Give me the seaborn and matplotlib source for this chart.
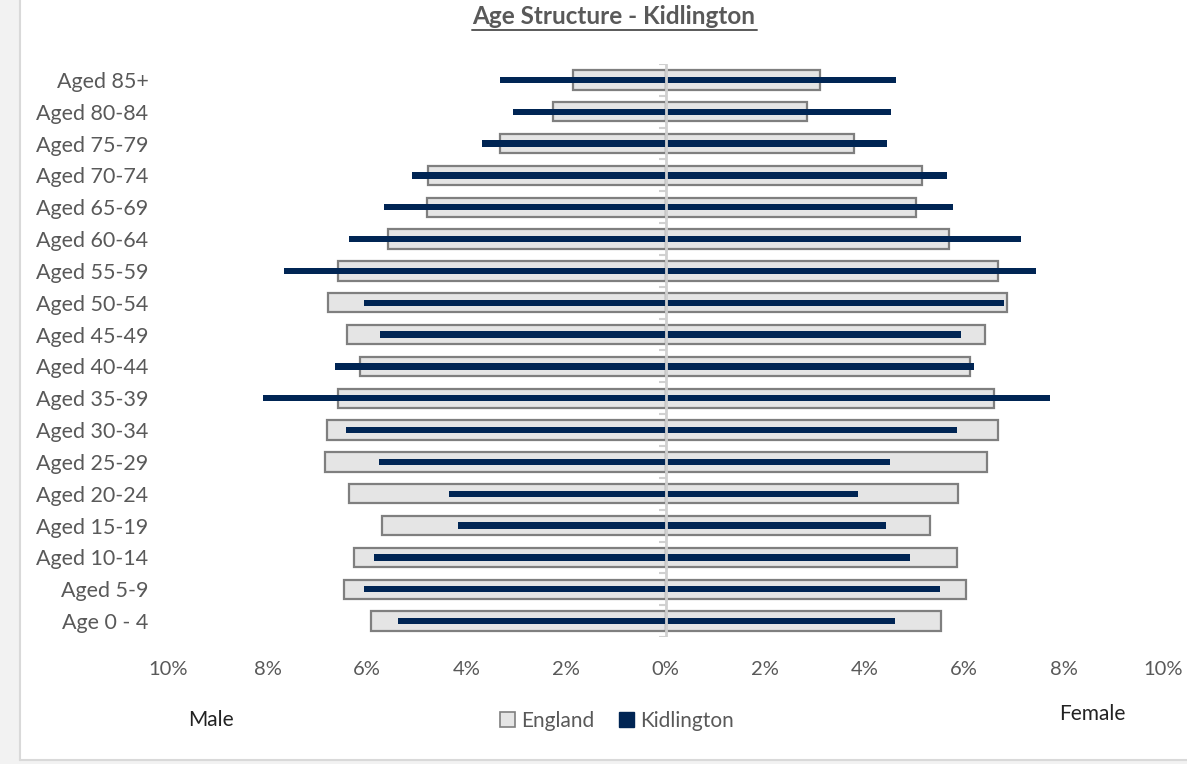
import numpy as np
import pandas as pd
import matplotlib
matplotlib.use("Agg")
import matplotlib.pyplot as plt
from matplotlib.patches import Patch
import seaborn as sns

# Age bands, oldest at the top
age_bands = ["Aged 85+", "Aged 80-84", "Aged 75-79", "Aged 70-74", "Aged 65-69",
             "Aged 60-64", "Aged 55-59", "Aged 50-54", "Aged 45-49", "Aged 40-44",
             "Aged 35-39", "Aged 30-34", "Aged 25-29", "Aged 20-24", "Aged 15-19",
             "Aged 10-14", "Aged 5-9", "Age 0 - 4"]

# Share of population (%) in each band
england_male = [1.86, 2.27, 3.32, 4.77, 4.79, 5.58, 6.59, 6.79, 6.41, 6.14,
                6.59, 6.81, 6.85, 6.37, 5.69, 6.26, 6.47, 5.91]
england_female = [3.10, 2.85, 3.79, 5.15, 5.03, 5.70, 6.69, 6.87, 6.43, 6.12,
                  6.60, 6.69, 6.47, 5.88, 5.31, 5.86, 6.05, 5.53]
kidlington_male = [3.32, 3.06, 3.68, 5.09, 5.66, 6.36, 7.67, 6.06, 5.73, 6.64,
                   8.09, 6.42, 5.76, 4.36, 4.18, 5.85, 6.07, 5.37]
kidlington_female = [4.63, 4.54, 4.46, 5.66, 5.77, 7.14, 7.44, 6.81, 5.93, 6.20,
                     7.72, 5.86, 4.52, 3.87, 4.44, 4.91, 5.51, 4.61]

x_ticks = [-10, -8, -6, -4, -2, 0, 2, 4, 6, 8, 10]
x_tick_labels = ["10%", "8%", "6%", "4%", "2%", "0%", "2%", "4%", "6%", "8%", "10%"]

ENG_FACE = "#e5e5e5"
ENG_EDGE = "#7f7f7f"
KID_COLOR = "#002554"
TEXT_GREY = "#595959"

sns.set_theme(style="white")
plt.rcParams["font.family"] = ["Lato", "DejaVu Sans"]

W, H = 1187, 764
fig = plt.figure(figsize=(W / 100, H / 100), dpi=100)
fig.patch.set_facecolor("white")

# light grey surround with the chart-area border
fig.add_artist(plt.Rectangle((0, 0), 19 / W, 1, transform=fig.transFigure,
                             facecolor="#f2f2f2", edgecolor="none", zorder=0))
fig.add_artist(plt.Rectangle((0, 0), 1, 4 / H, transform=fig.transFigure,
                             facecolor="#f2f2f2", edgecolor="none", zorder=0))
fig.add_artist(plt.Line2D([19.5 / W, 19.5 / W], [4.5 / H, 1], transform=fig.transFigure,
                          color="#d9d9d9", lw=1.5))
fig.add_artist(plt.Line2D([19.5 / W, 1], [4.5 / H, 4.5 / H], transform=fig.transFigure,
                          color="#d9d9d9", lw=1.5))

ax = fig.add_axes([168 / W, (H - 637) / H, 995 / W, 573 / H])

eng = pd.DataFrame({"band": age_bands * 2,
                    "value": [-v for v in england_male] + england_female})
kid = pd.DataFrame({"band": age_bands * 2,
                    "value": [-v for v in kidlington_male] + kidlington_female})

for side in (eng.iloc[:18], eng.iloc[18:]):
    sns.barplot(data=side, x="value", y="band", order=age_bands, orient="h",
                width=0.61, color=ENG_FACE, edgecolor=ENG_EDGE, linewidth=1.6,
                saturation=1, ax=ax, zorder=2)
for side in (kid.iloc[:18], kid.iloc[18:]):
    sns.barplot(data=side, x="value", y="band", order=age_bands, orient="h",
                width=0.2, color=KID_COLOR, linewidth=0, saturation=1, ax=ax, zorder=3)

ax.set_xlim(-10, 10)
ax.set_ylim(len(age_bands) - 0.5, -0.5)

# central axis with small category ticks
ax.axvline(0, color="#d0d0d0", lw=2, zorder=4)
for b in np.arange(-0.5, len(age_bands)):
    ax.plot([-0.13, 0], [b, b], color="#d0d0d0", lw=1.5, zorder=4,
            solid_capstyle="butt")

for s in ax.spines.values():
    s.set_visible(False)
ax.set_xlabel("")
ax.set_ylabel("")
ax.set_xticks(x_ticks)
ax.set_xticklabels(x_tick_labels)
ax.tick_params(axis="x", length=0, pad=17, labelsize=14.5, labelcolor=TEXT_GREY)
ax.tick_params(axis="y", length=0, pad=14, labelsize=15.5, labelcolor=TEXT_GREY)

fig.text(614 / W, 1 - 17 / H, "Age Structure - Kidlington", ha="center", va="center",
         fontsize=17.5, fontweight="bold", color=TEXT_GREY)
# underline under the title
fig.add_artist(plt.Line2D([472 / W, 757 / W], [1 - 30 / H, 1 - 30 / H],
                          transform=fig.transFigure, color=TEXT_GREY, lw=1.4))

fig.text(211 / W, 1 - 720 / H, "Male", ha="center", va="center", fontsize=15,
         color="#222222")
fig.text(1092 / W, 1 - 714 / H, "Female", ha="center", va="center", fontsize=15,
         color="#222222")

handles = [Patch(facecolor=ENG_FACE, edgecolor=ENG_EDGE, linewidth=1.2, label="England"),
           Patch(facecolor=KID_COLOR, edgecolor=KID_COLOR, label="Kidlington")]
fig.legend(handles=handles, loc="center", bbox_to_anchor=(617 / W, 1 - 721 / H),
           ncol=2, frameon=False, fontsize=15, labelcolor=TEXT_GREY,
           handlelength=0.7, handleheight=0.7, handletextpad=0.3, columnspacing=1.2)

fig.savefig("out.png", dpi=100, facecolor="white")
